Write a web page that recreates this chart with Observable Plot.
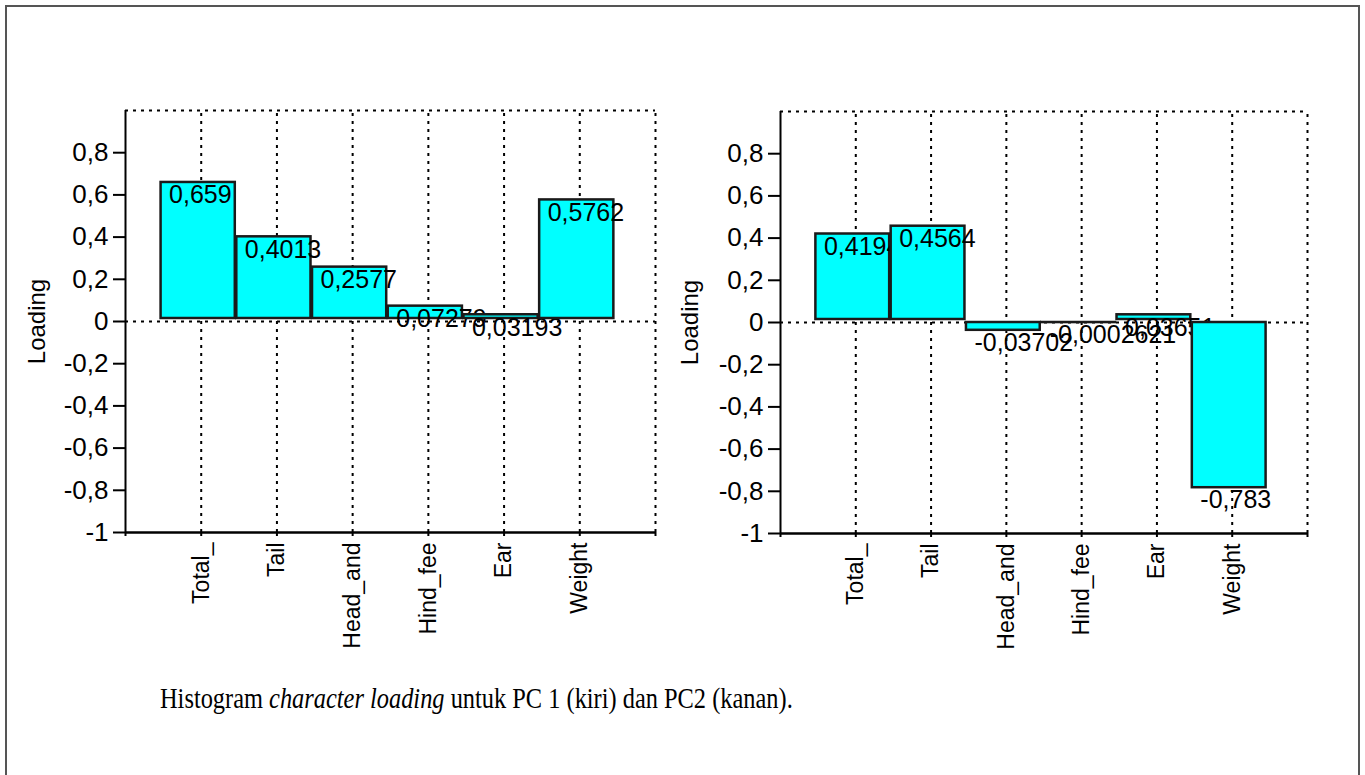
<!DOCTYPE html>
<html>
<head>
<meta charset="utf-8">
<script src="https://cdn.jsdelivr.net/npm/d3@7"></script>
<script src="https://cdn.jsdelivr.net/npm/@observablehq/plot@0.6"></script>
<style>
  html, body { margin: 0; padding: 0; background: #fff; }
  #page { position: relative; width: 1365px; height: 775px; overflow: hidden; background: #fff; }
  #border { position: absolute; left: 5px; top: 5px; width: 1351px; height: 820px; border: 2px solid #555; }
  .chart { position: absolute; }
  #left { left: 0px; top: 90px; }
  #right { left: 680px; top: 91px; }
  #caption { position: absolute; left: 160px; top: 684px; font-family: "Liberation Serif", "Times New Roman", serif; font-size: 24.4px; color: #000; white-space: nowrap; transform: scale(1, 1.22); transform-origin: left center; }
</style>
</head>
<body>
<div id="page">
  <div id="border"></div>
  <div id="left" class="chart"></div>
  <div id="right" class="chart"></div>
  <div id="caption">Histogram <i>character loading</i> untuk PC 1 (kiri) dan PC2 (kanan).</div>
</div>
<script>
// ---- data ----
const categories = ["Total_", "Tail", "Head_and", "Hind_fee", "Ear", "Weight"];
const pc1Loadings = [0.659, 0.4013, 0.2577, 0.07279, 0.03193, 0.5762];
const pc2Loadings = [0.4194, 0.4564, -0.03702, -0.0002621, 0.03651, -0.783];
const yTicks = [-1, -0.8, -0.6, -0.4, -0.2, 0, 0.2, 0.4, 0.6, 0.8];
const yLabel = "Loading";

const FONT = "'Liberation Sans', Arial, sans-serif";
const fmtTick = d => String(Math.round(d * 10) / 10).replace(".", ",");
const fmtVal = v => String(v).replace(".", ",");

function chart(values, opts) {
  const rows = values.map((v, i) => ({pos: i + 1, cat: categories[i], value: v, label: fmtVal(v)}));
  const dash = {stroke: "#000", strokeWidth: 2, strokeDasharray: "3,5"};
  const marks = [
    // dotted grid: category lines, right border, top border, zero line
    Plot.ruleX([1, 2, 3, 4, 5, 6, 7], {y1: -1, y2: 1, ...dash}),
    Plot.ruleY([1], {x1: 0, x2: 7, ...dash}),
    Plot.ruleY([0], {x1: 0, x2: 7, ...dash}),
  ];
  // bars interleaved with their labels (later bars cover earlier labels)
  rows.forEach(r => {
    marks.push(Plot.rect([r], {
      x1: d => d.pos - 0.53, x2: d => d.pos + 0.45, y1: 0, y2: "value",
      insetBottom: r.value > 0 ? 3 : 0,
      fill: "#00ffff", stroke: "#1a1a1a", strokeWidth: 2.5
    }));
    marks.push(Plot.text([r], {
      x: d => d.pos - 0.53, y: "value", text: "label",
      textAnchor: "start", lineAnchor: "top", dx: 8, dy: 3,
      fontSize: 25, fill: "#000"
    }));
  });
  marks.push(
    Plot.ruleX([0], {y1: -1, y2: 1, stroke: "#000", strokeWidth: 2}),
    Plot.ruleY([-1], {x1: 0, x2: 7, stroke: "#000", strokeWidth: 2.5}),
    Plot.axisY({ticks: yTicks, tickFormat: fmtTick, tickSize: 12, tickPadding: 5,
      fontSize: 26, label: null, strokeWidth: 2}),
    Plot.axisY({ticks: [], label: yLabel, labelAnchor: "center", labelArrow: "none",
      labelOffset: opts.labelOffset, fontSize: 24}),
    Plot.axisX({ticks: [1, 2, 3, 4, 5, 6], tickFormat: p => categories[p - 1],
      tickRotate: -90, tickSize: 4, tickPadding: 6, fontSize: 23, label: null, strokeWidth: 2}),
    Plot.axisX({ticks: [0, 7], tickFormat: () => "", tickSize: 4, label: null, strokeWidth: 2})
  );
  return Plot.plot({
    width: opts.width,
    height: 582,
    marginLeft: opts.marginLeft,
    marginRight: opts.marginRight,
    marginTop: 20,
    marginBottom: 140,
    style: {fontFamily: FONT, fontSize: "24px", color: "#000", background: "transparent", overflow: "visible"},
    x: {type: "linear", domain: [0, 7], axis: null},
    y: {domain: [-1, 1], axis: null},
    marks
  });
}

document.getElementById("left").appendChild(chart(pc1Loadings, {width: 680, marginLeft: 125, marginRight: 25, labelOffset: 98}));
document.getElementById("right").appendChild(chart(pc2Loadings, {width: 685, marginLeft: 100, marginRight: 58, labelOffset: 100}));
</script>
</body>
</html>
